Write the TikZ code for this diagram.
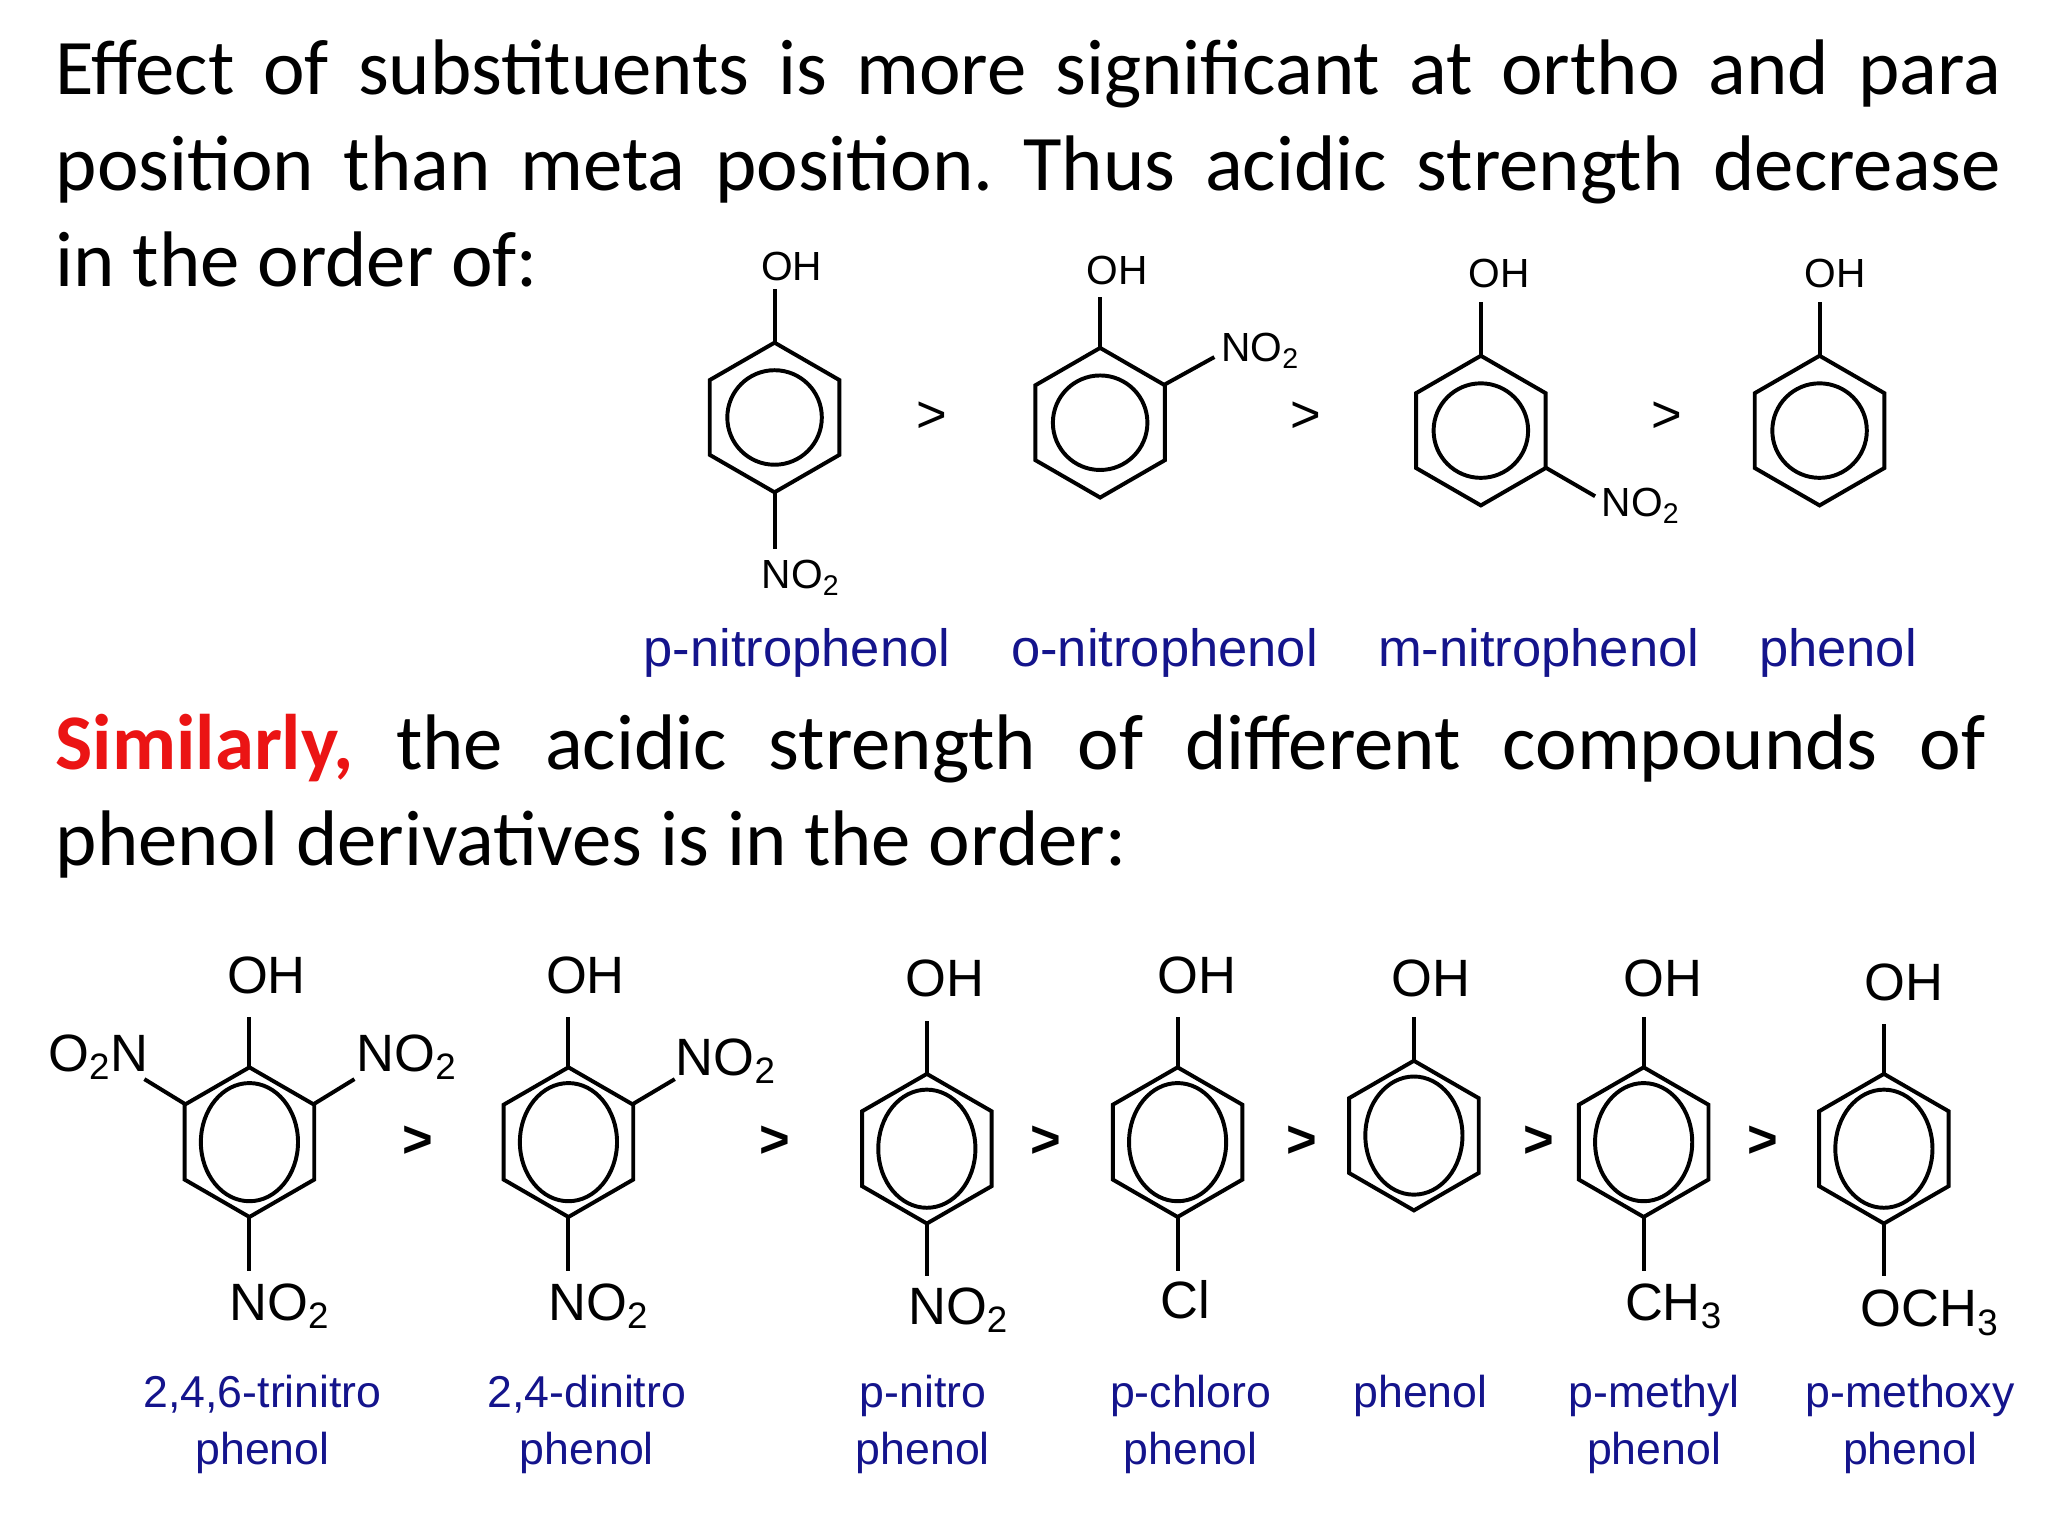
\documentclass[tikz,border=0pt]{standalone}
\usepackage{fontspec}
\setmainfont{Carlito}
\newfontfamily\chem{Liberation Sans}
\definecolor{navy}{RGB}{20,20,140}
\definecolor{redt}{RGB}{235,20,20}
\newcommand{\ringhex}[5]{%
 \draw[bond] (#1,#2)++(90:#3) -- ++(-30:#3) -- ++(-90:#3) -- ++(-150:#3) -- ++(150:#3) -- ++(90:#3) -- cycle;
 \draw[bond] (#1,#2) ellipse[x radius=#4,y radius=-#5];}
\frenchspacing
\begin{document}
\begin{tikzpicture}[x=0.5pt,y=-0.5pt,
 bond/.style={line width=1.5pt,line join=miter},
 lab/.style={font=\chem\fontsize{15.5}{16}\selectfont,inner sep=0pt},
 labB/.style={font=\chem\fontsize{20}{21}\selectfont,inner sep=0pt},
 nm/.style={font=\chem\fontsize{20}{21}\selectfont,text=navy,inner sep=0pt},
 nmB/.style={font=\chem\fontsize{17}{22}\selectfont,text=navy,inner sep=0pt,align=center},
 gt/.style={font=\chem\fontsize{20}{21}\selectfont,inner sep=0pt},
 gtB/.style={font=\chem\bfseries\fontsize{20}{21}\selectfont,inner sep=0pt}]
\useasboundingbox[fill=white] (0,0) rectangle (1560,1170);
\node[anchor=north west,inner sep=0pt,text width=741pt,align=justify,font=\fontsize{30}{36.5}\selectfont] (t1) at (42,30)
 {\frenchspacing Effect of substituents is more significant at ortho and para\linebreak position than meta position. Thus acidic strength decrease\linebreak in the order of:};
\node[anchor=north west,inner sep=0pt,text width=735pt,align=justify,font=\fontsize{30}{36.5}\selectfont] (t2) at (42,544)
 {\frenchspacing\textcolor{redt}{\bfseries Similarly,} the acidic strength of different compounds of\linebreak phenol derivatives is in the order:};
% top row
\ringhex{590}{318}{57}{36}{36}
\draw[bond] (590,261)--(590,220); \node[lab] (a1) at (603,203) {OH};
\draw[bond] (590,375)--(590,418); \node[lab] (a2) at (610,440) {NO\textsubscript{2}};
\ringhex{838}{322}{57}{36}{36}
\draw[bond] (838,265)--(838,226); \node[lab] (b1) at (851,206) {OH};
\draw[bond] (887,293)--(925,272); \node[lab] (b2) at (960,267) {NO\textsubscript{2}};
\ringhex{1128}{328}{57}{36}{36}
\draw[bond] (1128,271)--(1128,230); \node[lab] (c1) at (1142,208) {OH};
\draw[bond] (1177,356)--(1215,378); \node[lab] (c2) at (1250,385) {NO\textsubscript{2}};
\ringhex{1386}{328}{57}{36}{36}
\draw[bond] (1386,271)--(1386,230); \node[lab] (d1) at (1398,208) {OH};
\node[gt] at (710,318) {>}; \node[gt] at (995,318) {>}; \node[gt] at (1270,318) {>};
\node[nm] at (607,497) {p-nitrophenol};
\node[nm] at (887,497) {o-nitrophenol};
\node[nm] at (1172,497) {m-nitrophenol};
\node[nm] at (1400,497) {phenol};
% bottom row
\ringhex{190}{870}{57}{37}{45}
\draw[bond] (190,813)--(190,775); \node[labB] at (203,743) {OH};
\draw[bond] (141,841)--(110,822); \node[labB] at (75,805) {O\textsubscript{2}N};
\draw[bond] (239,841)--(270,822); \node[labB] at (310,805) {NO\textsubscript{2}};
\draw[bond] (190,927)--(190,968); \node[labB] at (213,995) {NO\textsubscript{2}};
\ringhex{433}{870}{57}{37}{45}
\draw[bond] (433,813)--(433,775); \node[labB] at (446,743) {OH};
\draw[bond] (482,841)--(514,822); \node[labB] at (553,808) {NO\textsubscript{2}};
\draw[bond] (433,927)--(433,968); \node[labB] at (456,995) {NO\textsubscript{2}};
\ringhex{706}{875}{57}{37}{45}
\draw[bond] (706,818)--(706,778); \node[labB] at (720,745) {OH};
\draw[bond] (706,932)--(706,972); \node[labB] at (730,998) {NO\textsubscript{2}};
\ringhex{897}{870}{57}{37}{45}
\draw[bond] (897,813)--(897,775); \node[labB] at (912,743) {OH};
\draw[bond] (897,927)--(897,968); \node[labB] at (903,990) {Cl};
\ringhex{1077}{865}{57}{37}{45}
\draw[bond] (1077,808)--(1077,775); \node[labB] at (1090,745) {OH};
\ringhex{1252}{870}{57}{37}{45}
\draw[bond] (1252,813)--(1252,775); \node[labB] at (1267,745) {OH};
\draw[bond] (1252,927)--(1252,968); \node[labB] at (1275,995) {CH\textsubscript{3}};
\ringhex{1435}{875}{57}{37}{45}
\draw[bond] (1435,818)--(1435,780); \node[labB] at (1450,748) {OH};
\draw[bond] (1435,932)--(1435,972); \node[labB] at (1470,1000) {OCH\textsubscript{3}};
\foreach \x in {318,590,797,992,1172,1343} \node[gtB] at (\x,870) {>};
\node[nmB] at (200,1085) {2,4,6-trinitro\\phenol};
\node[nmB] at (447,1085) {2,4-dinitro\\phenol};
\node[nmB] at (703,1085) {p-nitro\\phenol};
\node[nmB] at (907,1085) {p-chloro\\phenol};
\node[nmB] at (1082,1063) {phenol};
\node[nmB] at (1260,1085) {p-methyl\\phenol};
\node[nmB] at (1455,1085) {p-methoxy\\phenol};
\end{tikzpicture}
\end{document}
